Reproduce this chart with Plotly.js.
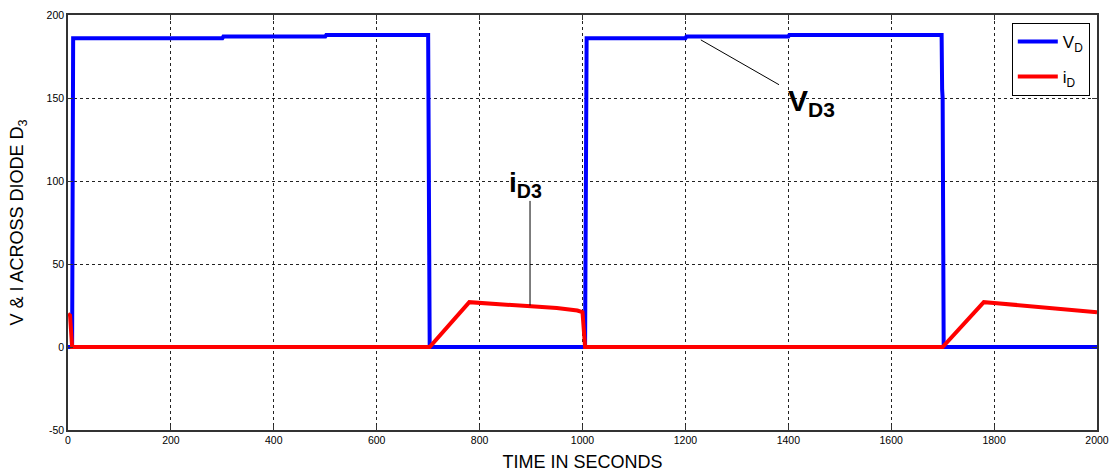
<!DOCTYPE html>
<html><head><meta charset="utf-8">
<script src="https://cdn.plot.ly/plotly-3.0.1.min.js"></script>
<style>body{margin:0;background:#fff}#c{width:1113px;height:476px}</style>
</head><body><div id="c"></div>
<script>
const vdTime = [0, 8, 10, 300, 302, 500, 502, 700, 703, 1005, 1008, 1200, 1202, 1400, 1402, 1698, 1699, 1700, 1702, 2000];
const vdVals = [0, 0, 186, 186, 187, 187, 188, 188, 0, 0, 186, 186, 187, 187, 188, 188, 155, 150, 0, 0];
const idTime = [0, 4, 8, 703, 780, 800, 850, 900, 950, 990, 1000, 1005, 1700, 1780, 1800, 1850, 1900, 1950, 2000];
const idVals = [20, 19, 0, 0, 27, 26.5, 25.5, 24.5, 23.5, 22, 21, 0, 0, 27, 26.5, 25, 24, 22.5, 21];
const xTicks = [0, 200, 400, 600, 800, 1000, 1200, 1400, 1600, 1800, 2000];
const yTicks = [-50, 0, 50, 100, 150, 200];
const yTickText = ['-50', '0', '50', '100', '150', '200'];

const fnt = 'Liberation Sans, Arial, sans-serif';
const traces = [
  {x: vdTime, y: vdVals, type: 'scatter', mode: 'lines', name: 'V<sub>D</sub>', legendgroup: 'a',
   line: {color: '#0000ff', width: 4}},
  {x: idTime, y: idVals, type: 'scatter', mode: 'lines', name: 'i<sub>D</sub>', legendgroup: 'b',
   line: {color: '#ff0000', width: 4}}
];
const axBase = {
  showline: true, linecolor: '#333', linewidth: 1.5, mirror: 'ticks',
  ticks: 'inside', ticklen: 5, tickcolor: '#333', zeroline: false,
  showgrid: true, gridcolor: '#222', griddash: '3px,3px', gridwidth: 1,
  tickfont: {family: fnt, size: 10.5, color: '#000'}
};
const layout = {
  width: 1113, height: 476,
  margin: {l: 68, r: 16, t: 15, b: 46},
  paper_bgcolor: '#fff', plot_bgcolor: '#fff',
  showlegend: true,
  legend: {x: 0.993, y: 0.981, xanchor: 'right', yanchor: 'top',
    bordercolor: '#000', borderwidth: 1, bgcolor: '#fff', itemwidth: 40,
    traceorder: 'grouped', tracegroupgap: 10,
    font: {family: fnt, size: 17, color: '#000'}},
  xaxis: Object.assign({}, axBase, {range: [0, 2000], tickvals: xTicks,
    title: {text: 'TIME IN SECONDS', font: {family: fnt, size: 18, color: '#000'}, standoff: 10}}),
  yaxis: Object.assign({}, axBase, {range: [-50, 200], tickvals: yTicks, ticktext: yTickText,
    title: {text: 'V & I ACROSS DIODE D<sub>3</sub>', font: {family: fnt, size: 18, color: '#000'}, standoff: 18}}),
  shapes: [
    {type: 'line', xref: 'x', yref: 'y', x0: 1230, y0: 185, x1: 1382, y1: 158, line: {color: '#000', width: 1}},
    {type: 'line', xref: 'x', yref: 'y', x0: 898, y0: 88, x1: 898, y1: 25, line: {color: '#000', width: 1}}
  ],
  annotations: [
    {x: 1445, y: 147, xref: 'x', yref: 'y', showarrow: false,
     text: '<b>V<sub>D3</sub></b>', font: {family: fnt, size: 30, color: '#000'}},
    {x: 890, y: 98, xref: 'x', yref: 'y', showarrow: false,
     text: '<b>i<sub>D3</sub></b>', font: {family: fnt, size: 28, color: '#000'}}
  ]
};
Plotly.newPlot('c', traces, layout, {displayModeBar: false});
</script></body></html>
